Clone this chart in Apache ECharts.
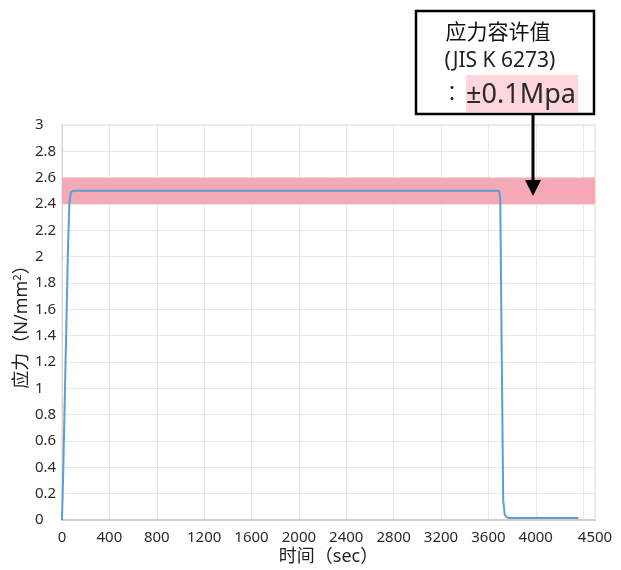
<!DOCTYPE html>
<html>
<head>
<meta charset="utf-8">
<script src="https://cdn.jsdelivr.net/npm/echarts@6/dist/echarts.min.js"></script>
<style>html,body{margin:0;padding:0;background:#fff;}#c{width:621px;height:570px;}</style>
</head>
<body>
<div id="c"></div>
<script>
// Stress curve (time sec, stress N/mm2)
var timeSec = [0, 10, 30, 50, 62, 75, 95, 3690, 3700, 3712, 3725, 3738, 3755, 3780, 4360];
var stress  = [0, 0.35, 1.2, 2.05, 2.4, 2.49, 2.5, 2.5, 2.45, 1.3, 0.15, 0.04, 0.02, 0.015, 0.015];
var toleranceBand = [2.4, 2.6];
var xTicksHidden = [4400];
var annTitle = '应力容许值';
var annStd = '(JIS K 6273)';
var annColon = '：';
var annValue = '±0.1Mpa';

var chart = echarts.init(document.getElementById('c'));
var pts = timeSec.map(function (t, i) { return [t, stress[i]]; });
var F = '"Noto Sans", "Noto Sans CJK JP", sans-serif';
chart.setOption({
  animation: false,
  grid: { left: 62, right: 26, top: 125, bottom: 50, show: true, borderColor: '#d6d6d6', borderWidth: 1,
          containLabel: false, outerBoundsMode: 'none' },
  xAxis: {
    type: 'value', min: 0, max: 4500, interval: 400,
    name: '时间（sec）', nameLocation: 'middle', nameGap: 28, nameMoveOverlap: false,
    nameTextStyle: { fontSize: 18, color: '#222', fontFamily: F },
    axisLine: { show: true, lineStyle: { color: '#cfcfcf', width: 2 } },
    axisTick: { show: false },
    axisLabel: { fontSize: 15, color: '#2a2a2a', margin: 10, fontFamily: F,
      formatter: function (v) { return xTicksHidden.indexOf(v) >= 0 ? '' : String(v); } },
    splitLine: { show: true, lineStyle: { color: '#e8e8e8' } }
  },
  yAxis: {
    type: 'value', min: 0, max: 3, interval: 0.2,
    name: '应力（N/mm{s|2}）', nameLocation: 'middle', nameGap: 30, nameMoveOverlap: false,
    nameTextStyle: { fontSize: 18, color: '#222', fontFamily: F,
      rich: { s: { fontSize: 11, verticalAlign: 'top', color: '#222', padding: [0, 0, 9, 0] } } },
    axisLine: { show: true, lineStyle: { color: '#d6d6d6' } },
    axisTick: { show: false },
    axisLabel: { fontSize: 15, color: '#2a2a2a', margin: 27, align: 'left', fontFamily: F,
      formatter: function (v) { return String(Number(v.toFixed(1))); } },
    splitLine: { show: true, lineStyle: { color: '#e8e8e8' } }
  },
  series: [{
    type: 'line', data: pts, showSymbol: false, symbol: 'none', smooth: false, z: 3,
    lineStyle: { color: '#5a9fd4', width: 2 },
    markArea: {
      silent: true,
      itemStyle: { color: 'rgb(245,168,182)' },
      data: [[{ yAxis: toleranceBand[0] }, { yAxis: toleranceBand[1] }]]
    }
  }],
  graphic: [
    { type: 'rect', shape: { x: 416, y: 11, width: 178, height: 103 }, style: { fill: '#fff', stroke: '#000', lineWidth: 2.5 }, z: 10 },
    { type: 'rect', shape: { x: 466, y: 75, width: 112, height: 37 }, style: { fill: '#ffd6dc' }, z: 11 },
    { type: 'text', x: 498, y: 33, style: { text: annTitle, font: '21px ' + F, fill: '#111', textAlign: 'center', textVerticalAlign: 'middle' }, z: 12 },
    { type: 'text', x: 500, y: 61, style: { text: annStd, font: '21px ' + F, fill: '#222', textAlign: 'center', textVerticalAlign: 'middle' }, z: 12 },
    { type: 'text', x: 452, y: 95, style: { text: annColon, font: '20px ' + F, fill: '#222', textAlign: 'center', textVerticalAlign: 'middle' }, z: 12 },
    { type: 'text', x: 521, y: 95, style: { text: annValue, font: '27px ' + F, fill: '#2a2a2a', textAlign: 'center', textVerticalAlign: 'middle' }, z: 12 },
    { type: 'line', shape: { x1: 533, y1: 114, x2: 533, y2: 184 }, style: { stroke: '#000', lineWidth: 3 }, z: 12 },
    { type: 'polygon', shape: { points: [[525, 180], [541, 180], [533, 196]] }, style: { fill: '#000' }, z: 12 }
  ]
});
</script>
</body>
</html>
